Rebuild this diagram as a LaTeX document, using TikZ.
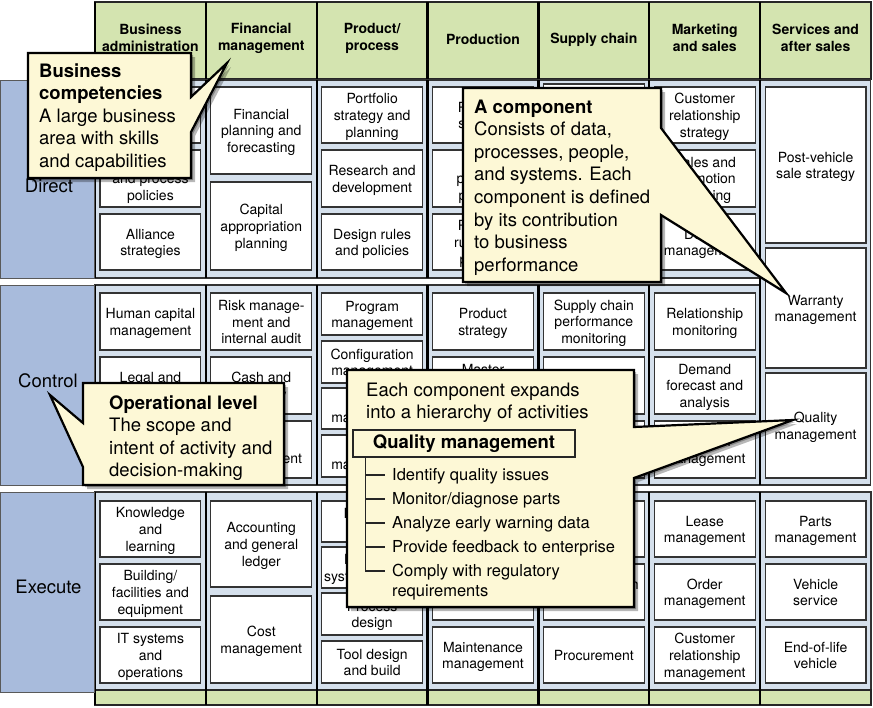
\documentclass[tikz,border=0pt]{standalone}
\usepackage{fontspec}
\setmainfont{TeX Gyre Heros}
\usetikzlibrary{calc}
\definecolor{hdrgreen}{RGB}{212,228,176}
\definecolor{lblblue}{RGB}{168,187,220}
\definecolor{cellblue}{RGB}{213,224,236}
\definecolor{callfill}{RGB}{253,248,214}
\newcommand\mkbox[5]{%
  \pgfmathsetmacro\bxc{95+(#2-0.5)*110.857}%
  \pgfmathsetmacro\byc{(#3+#4)/2}%
  \pgfmathsetmacro\bh{#4-#3}%
  \node[bx, minimum width=100.857pt, minimum height=\bh pt] (#1) at (\bxc,\byc) {\rule{0pt}{14pt}#5\rule[-3pt]{0pt}{3pt}};}
\begin{document}
\begin{tikzpicture}[x=1pt,y=-1pt,
  hdrcell/.style={fill=hdrgreen, draw=black!85, line width=1.3pt, inner sep=0},
  hdrtext/.style={align=center, inner sep=0, font=\fontsize{14}{17}\selectfont\bfseries},
  cellbg/.style={fill=cellblue, draw=black!80, line width=1.2pt, inner sep=0},
  lbl/.style={fill=lblblue, draw=black!65, line width=1pt, inner sep=0},
  lbltext/.style={font=\fontsize{18.5}{22}\selectfont, inner sep=0},
  bx/.style={draw=black!80, fill=white, line width=1.2pt, align=center, inner sep=0, font=\fontsize{14}{16.7}\selectfont},
  sep/.style={draw=black, line width=2.4pt},
  callout/.style={fill=callfill, draw=black, line width=2.2pt, line join=miter, miter limit=20},
  callshadow/.style={fill=black, opacity=0.28},
  calltext/.style={font=\fontsize{18.5}{22.6}\selectfont, align=left, inner sep=0, anchor=north west},
  itemtext/.style={font=\fontsize{16.5}{29.5}\selectfont, inner sep=0, anchor=west},
  tree/.style={draw=black!85, line width=1.3pt},
]
\useasboundingbox (0,0) rectangle (873,707);
\fill[white] (0,0) rectangle (873,707);

% header
\foreach \c/\t/\ty in {1/{Business\\administration}/38,2/{Financial\\management}/38,3/{Product/\\process}/38,4/{Production}/39.5,5/{Supply chain}/39.5,6/{Marketing\\and sales}/38,7/{Services and\\after sales}/38}{
  \pgfmathsetmacro\xc{95+(\c-0.5)*110.857}
  \node[hdrcell, minimum width=110.857pt, minimum height=77pt] (h\c) at (\xc,40.5) {};
  \node[hdrtext] (ht\c) at (\xc,\ty) {\rule{0pt}{12pt}\t\rule[-3pt]{0pt}{3pt}};
}

% row cells
\foreach \c in {1,...,6} {
  \pgfmathsetmacro\xc{95+(\c-0.5)*110.857}
  \node[cellbg, minimum width=110.857pt, minimum height=198pt] (rd\c) at (\xc,179) {};
  \node[cellbg, minimum width=110.857pt, minimum height=200pt] (rc\c) at (\xc,385) {};
}
\foreach \c in {1,...,7} {
  \pgfmathsetmacro\xc{95+(\c-0.5)*110.857}
  \node[cellbg, minimum width=110.857pt, minimum height=198pt] (re\c) at (\xc,591) {};
  \node[hdrcell, minimum width=110.857pt, minimum height=15pt] (ft\c) at (\xc,697.5) {};
}
\node[cellbg, minimum width=110.857pt, minimum height=405pt] (rdc7) at (815.43,282.5) {};

% separators
\foreach \k in {0,...,6} {
  \pgfmathsetmacro\xs{95+\k*110.857}
  \draw[sep] (\xs,80) -- (\xs,278);
  \draw[sep] (\xs,285) -- (\xs,485);
  \draw[sep] (\xs,492) -- (\xs,705);
  \draw[sep] (\xs,2) -- (\xs,79);
}
\draw[sep] (760.1,278) -- (760.1,285);

% row labels
\node[lbl, minimum width=94pt, minimum height=198pt] (lD) at (47.5,179) {};
\node[lbl, minimum width=94pt, minimum height=200pt] (lC) at (47.5,385) {};
\node[lbl, minimum width=94pt, minimum height=200pt] (lE) at (47.5,592) {};
\node[lbltext] (tD) at (49,186) {Direct};
\node[lbltext] (tC) at (48,381) {Control};
\node[lbltext] (tE) at (48.5,587) {Execute};

% column 1
\mkbox{b11}{1}{87}{143}{}
\mkbox{b12}{1}{150}{207}{Organization\\and process\\policies}
\mkbox{b13}{1}{214}{270}{Alliance\\strategies}
\mkbox{b14}{1}{293}{350}{Human capital\\management}
\mkbox{b15}{1}{357}{414}{Legal and\\compliance}
\mkbox{b16}{1}{421}{478}{}
\mkbox{b17}{1}{501}{557}{Knowledge\\and\\learning}
\mkbox{b18}{1}{564}{620}{Building/\\facilities and\\equipment}
\mkbox{b19}{1}{627}{683}{IT systems\\and\\operations}
% column 2
\mkbox{b21}{2}{87}{174}{Financial\\planning and\\forecasting}
\mkbox{b22}{2}{182}{270}{Capital\\appropriation\\planning}
\mkbox{b23}{2}{293}{350}{Risk manage-\\ment and\\internal audit}
\mkbox{b24}{2}{357}{414}{Cash and\\treasury}
\mkbox{b25}{2}{421}{478}{Asset\\management}
\mkbox{b26}{2}{501}{587}{Accounting\\and general\\ledger}
\mkbox{b27}{2}{596}{683}{Cost\\management}
% column 3
\mkbox{b31}{3}{87}{143}{Portfolio\\strategy and\\planning}
\mkbox{b32}{3}{150}{207}{Research and\\development}
\mkbox{b33}{3}{214}{270}{Design rules\\and policies}
\mkbox{b34}{3}{293}{335}{Program\\management}
\mkbox{b35}{3}{341}{383}{Configuration\\management}
\mkbox{b36}{3}{388}{429}{\phantom{Test}\\management}
\mkbox{b37}{3}{435}{477}{\phantom{Test}\\management}
\mkbox{b38}{3}{501}{542}{Materials\\\phantom{flow}}
\mkbox{b39}{3}{547}{588}{Industrial\\systems design}
\mkbox{b3a}{3}{593}{635}{Process\\design}
\mkbox{b3b}{3}{641}{683}{Tool design\\and build}
% column 4
\mkbox{b41}{4}{87}{143}{Process\\strategy}
\mkbox{b42}{4}{150}{207}{Line\\planning\\process}
\mkbox{b43}{4}{214}{270}{Process\\rules and\\policies}
\mkbox{b44}{4}{293}{350}{Product\\strategy}
\mkbox{b45}{4}{357}{414}{Master\\production\\schedule}
\mkbox{b46}{4}{421}{478}{}
\mkbox{b47}{4}{501}{557}{}
\mkbox{b48}{4}{564}{620}{}
\mkbox{b49}{4}{627}{683}{Maintenance\\management}
% column 5
\mkbox{b51}{5}{84}{272}{}
\mkbox{b52}{5}{293}{350}{Supply chain\\performance\\monitoring}
\mkbox{b53}{5}{357}{414}{Inventory\\management}
\mkbox{b54}{5}{421}{478}{}
\mkbox{b55}{5}{501}{557}{}
\mkbox{b56}{5}{564}{620}{Transportation\\management}
\mkbox{b57}{5}{627}{683}{Procurement}
% column 6
\mkbox{b61}{6}{87}{143}{Customer\\relationship\\strategy}
\mkbox{b62}{6}{150}{207}{Sales and\\promotion\\planning}
\mkbox{b63}{6}{214}{270}{Dealer\\management}
\mkbox{b64}{6}{293}{350}{Relationship\\monitoring}
\mkbox{b65}{6}{357}{414}{Demand\\forecast and\\analysis}
\mkbox{b66}{6}{421}{478}{Channel\\management}
\mkbox{b67}{6}{501}{557}{Lease\\management}
\mkbox{b68}{6}{564}{620}{Order\\management}
\mkbox{b69}{6}{627}{683}{Customer\\relationship\\management}
% column 7
\mkbox{b71}{7}{87}{243}{Post-vehicle\\sale strategy}
\mkbox{b72}{7}{248}{368}{Warranty\\management}
\mkbox{b73}{7}{373}{478}{Quality\\management}
\mkbox{b74}{7}{501}{557}{Parts\\management}
\mkbox{b75}{7}{564}{620}{Vehicle\\service}
\mkbox{b76}{7}{627}{683}{End-of-life\\vehicle}

% callout tips
\coordinate (tipBC) at (227,63);
\coordinate (tipAC) at (786,293);
\coordinate (tipOL) at (50,395);
\coordinate (tipEC) at (793,420);

% shadows
\foreach \s in {2,4} {
\begin{scope}[shift={(\s,\s)}]
\fill[callshadow] (28,53) -- (191,53) -- (191,97) -- (227,63) -- (191,132) -- (191,178) -- (28,178) -- cycle;
\fill[callshadow] (463,88) -- (661,88) -- (661,128) -- (786,293) -- (661,215) -- (661,282) -- (463,282) -- cycle;
\fill[callshadow] (83,383) -- (284,383) -- (284,485) -- (83,485) -- (83,467) -- (50,395) -- (83,423) -- cycle;
\fill[callshadow] (347,370) -- (634,370) -- (634,427) -- (793,420) -- (634,478) -- (634,607) -- (347,607) -- cycle;
\end{scope}
}

% callout bodies
\filldraw[callout] (28,53) -- (191,53) -- (191,97) -- (tipBC) -- (191,132) -- (191,178) -- (28,178) -- cycle;
\filldraw[callout] (463,88) -- (661,88) -- (661,128) -- (tipAC) -- (661,215) -- (661,282) -- (463,282) -- cycle;
\filldraw[callout] (83,383) -- (284,383) -- (284,485) -- (83,485) -- (83,467) -- (tipOL) -- (83,423) -- cycle;
\filldraw[callout] (347,370) -- (634,370) -- (634,427) -- (tipEC) -- (634,478) -- (634,607) -- (347,607) -- cycle;

% callout texts
\node[calltext] (bctext) at (39,61) {\strut\textbf{Business}\\\textbf{competencies}\\A large business\\area with skills\\and capabilities};
\node[calltext] (actext) at (474,97) {\strut\textbf{A component}\\Consists of data,\\processes, people,\\and systems. Each\\component is defined\\by its contribution\\to business\\performance};
\node[calltext] (oltext) at (109,393) {\strut\textbf{Operational level}\\The scope and\\intent of activity and\\decision-making};
\node[calltext] (ectext) at (366,380) {\strut Each component expands\\into a hierarchy of activities};

% hierarchy
\node[draw=black!85, line width=1.3pt, fill=callfill, minimum width=222pt, minimum height=27pt, inner sep=0, font=\fontsize{18.5}{22}\selectfont\bfseries] (qm) at (464,443.5) {Quality management};
\coordinate (treetop) at ($(qm.south west)+(13,0)$);
\node[itemtext] (it1) at (392,475) {\strut Identify quality issues};
\node[itemtext] (it2) at (392,499) {\strut Monitor/diagnose parts};
\node[itemtext] (it3) at (392,523) {\strut Analyze early warning data};
\node[itemtext] (it4) at (392,547) {\strut Provide feedback to enterprise};
\node[itemtext] (it5) at (392,571) {\strut Comply with regulatory};
\node[itemtext] (it6) at (392,591) {\strut requirements};
\draw[tree] (treetop) -- (treetop |- it5.west);
\foreach \i in {1,...,5} \draw[tree] (treetop |- it\i.west) -- ($(it\i.west)+(-7,0)$);
\end{tikzpicture}
\end{document}
